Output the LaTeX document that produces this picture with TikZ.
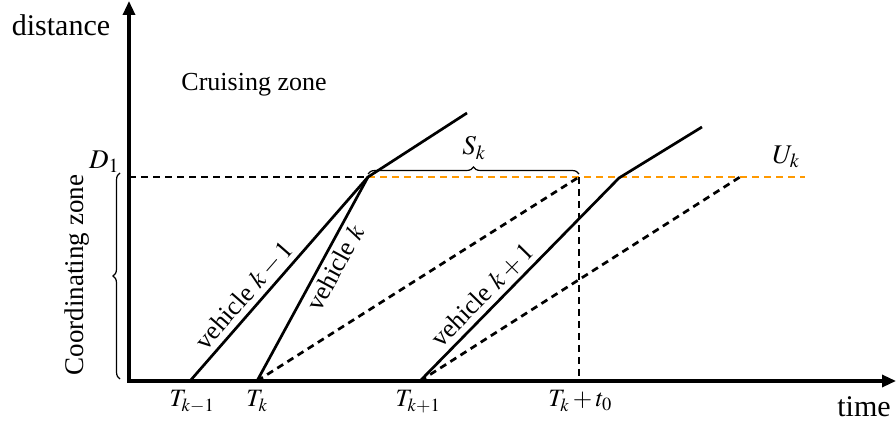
\documentclass[tikz,border=0pt]{standalone}
\usepackage{mathptmx}
\usepackage{fontspec}
\setmainfont{Liberation Serif}
\usetikzlibrary{arrows.meta,decorations.pathreplacing}
\definecolor{myorange}{RGB}{255,153,0}
\begin{document}
\begin{tikzpicture}[x=1pt,y=1pt,
 axis/.style={line width=3.2pt,{Triangle[length=14pt,width=12pt]}-{Triangle[length=14pt,width=12pt]}},
 traj/.style={line width=2.7pt},
 dsh/.style={line width=2.7pt,dash pattern=on 7pt off 5pt},
 odsh/.style={dsh,myorange},
 brc/.style={line width=1.2pt,decorate,decoration={brace,amplitude=7pt}},
 lbl/.style={inner sep=0pt,font=\fontsize{26}{28}\selectfont},
 vl/.style={inner sep=0pt,sloped,font=\fontsize{26}{28}\selectfont},
 tl/.style={inner sep=0pt,anchor=base,font=\fontsize{25}{27}\selectfont},
]
\useasboundingbox (0,0) rectangle (896,425);
% coordinates
\coordinate (O) at (129,44);
\coordinate (ytop) at (129,424);
\coordinate (xend) at (896,44);
\coordinate (D) at (129,248);
\coordinate (P) at (368,248);
\coordinate (A0) at (190,44);
\coordinate (A1) at (467,312);
\coordinate (B0) at (257,44);
\coordinate (Q) at (579,248);
\coordinate (Qb) at (579,44);
\coordinate (C0) at (420,44);
\coordinate (C1) at (619,247);
\coordinate (C2) at (702,298);
\coordinate (R) at (740,248);
\coordinate (Oe) at (805,248);
% dashed lines
\draw[dsh] (D) -- (P);
\draw[odsh] (P) -- (Oe);
\draw[dsh] (B0) -- (Q);
\draw[dsh] (Q) -- (Qb);
\draw[dsh] (C0) -- (R);
% trajectories
\draw[traj,line join=round] (A0) -- (P) -- (A1);
\draw[traj] (B0) -- (P);
\draw[traj,line join=round] (C0) -- (C1) -- (C2);
% vehicle labels
\path (A0) -- (P) node[vl,pos=0.37,above=5pt] (v1) {vehicle $k-1$};
\path (B0) -- (P) node[vl,pos=0.59,below=5pt] (v2) {vehicle $k$};
\path (C0) -- (C1) node[vl,pos=0.37,above=5pt] (v3) {vehicle $k+1$};
% axes
\draw[axis] (ytop) -- (O) -- (xend);
% braces
\coordinate (S0) at (368,251);
\coordinate (S1) at (579,251);
\draw[brc] (S0) -- (S1);
\coordinate (L0) at (120,46);
\coordinate (L1) at (120,252);
\draw[brc] (L0) -- (L1);
% labels
\node[lbl,anchor=base,font=\fontsize{30}{32}\selectfont] (dist) at (61,389) {distance};
\node[lbl,anchor=base] (cz) at (254,334) {Cruising zone};
\node[lbl,anchor=base,font=\fontsize{30}{32}\selectfont] (tm) at (864,8) {time};
\node[lbl,font=\fontsize{27}{29}\selectfont] (d1) at (104,263) {$D_1$};
\node[lbl,rotate=90,font=\fontsize{27}{29}\selectfont] (coord) at (77,150) {Coordinating zone};
\node[tl] (t1) at (192,18) {$T_{k-1}$};
\node[tl] (t2) at (257,18) {$T_k$};
\node[tl] (t3) at (418,18) {$T_{k+1}$};
\node[tl] (t4) at (580,18) {$T_k+t_0$};
\node[lbl,font=\fontsize{27}{29}\selectfont] (sk) at (474,277) {$S_k$};
\node[lbl,font=\fontsize{27}{29}\selectfont] (uk) at (786,268) {$U_k$};
\end{tikzpicture}
\end{document}
